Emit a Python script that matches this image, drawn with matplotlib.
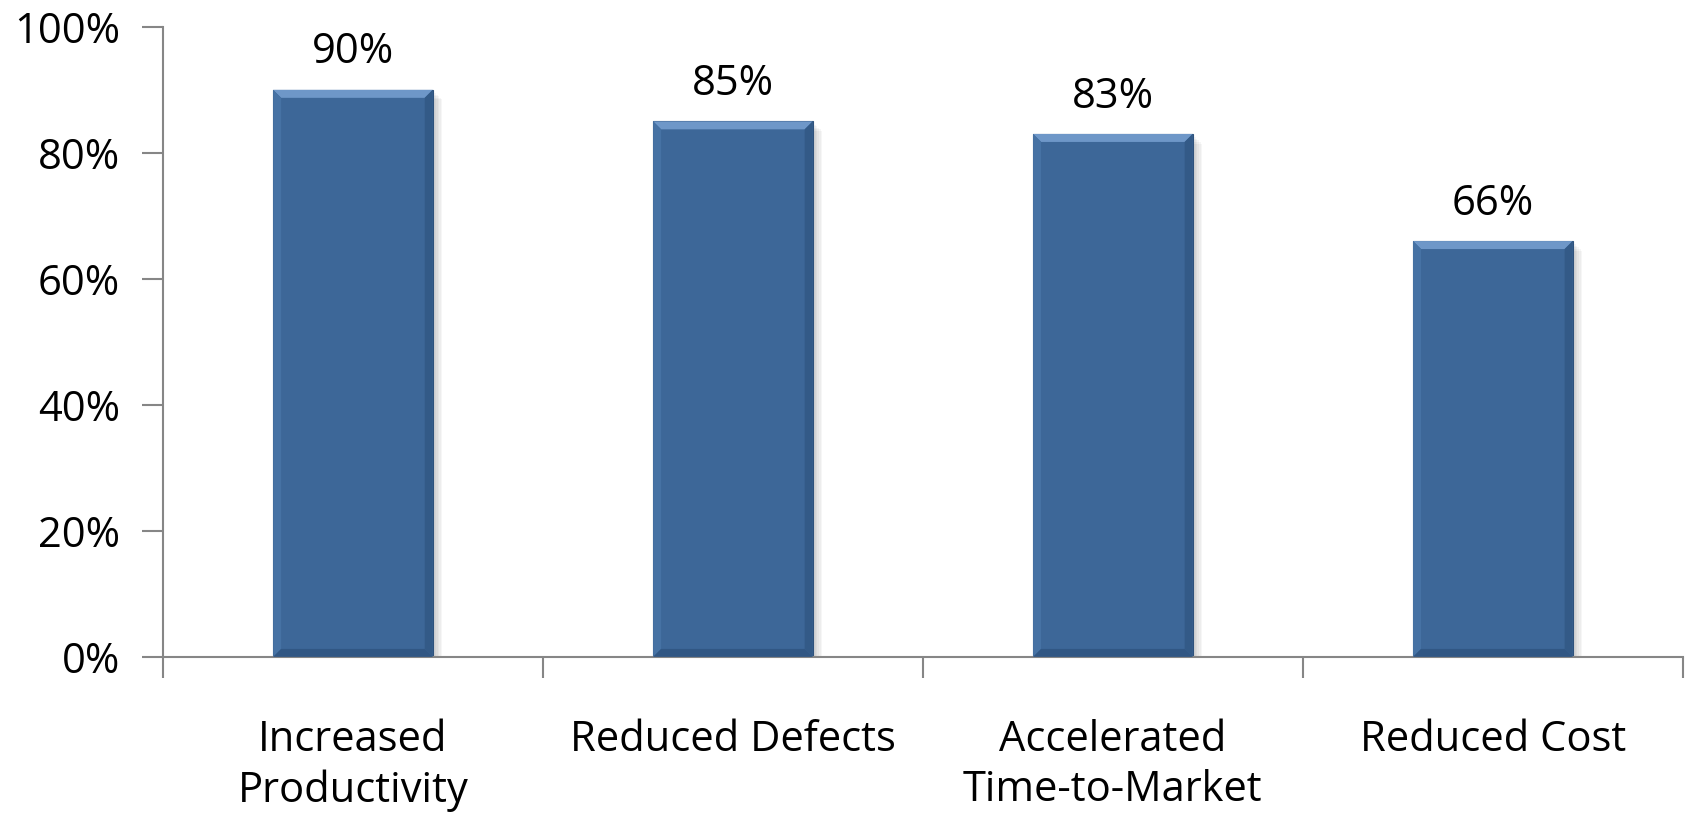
import numpy as np
import matplotlib
matplotlib.use("Agg")
import matplotlib.pyplot as plt
from matplotlib.patches import Rectangle, Polygon

# data
categories = ["Increased\nProductivity", "Reduced Defects", "Accelerated\nTime-to-Market", "Reduced Cost"]
values = [90, 85, 83, 66]
value_labels = ["90%", "85%", "83%", "66%"]
yticks = [0, 20, 40, 60, 80, 100]

plt.rcParams['font.family'] = ['Open Sans', 'DejaVu Sans']

fig = plt.figure(figsize=(16.85, 8.13), dpi=100)
ax = fig.add_axes([0.0967, 0.192, 0.902, 0.775])

width = 0.42
x = np.arange(len(categories))
ax.set_xlim(-0.5, len(categories) - 0.5)
ax.set_ylim(0, 100)

bar_color = "#3D6798"
# pixel -> data conversions for bevel and shadow sizes
ax_w_px = 0.902 * 1685
ax_h_px = 0.775 * 813
px_x = len(categories) / ax_w_px
px_y = 100 / ax_h_px

# soft shadow on the right
for i, v in enumerate(values):
    for k in range(6):
        off = (k + 1) * 1.6
        ax.add_patch(Rectangle((x[i] - width / 2 + off * px_x, 0), width, v - off * px_y,
                               facecolor="black", alpha=0.035, lw=0, zorder=1))

bars = ax.bar(x, values, width=width, color=bar_color, edgecolor="#2E527C", linewidth=0.8, zorder=2)

# bevel edges
bv_x = 8 * px_x
bv_y = 8 * px_y
for i, v in enumerate(values):
    l, r = x[i] - width / 2, x[i] + width / 2
    top = Polygon([(l, v), (r, v), (r - bv_x, v - bv_y), (l + bv_x, v - bv_y)],
                  closed=True, facecolor="#6E97C8", lw=0, zorder=3)
    left = Polygon([(l, v), (l + bv_x, v - bv_y), (l + bv_x, bv_y), (l, 0)],
                   closed=True, facecolor="#4672A4", lw=0, zorder=3)
    right = Polygon([(r, v), (r - bv_x, v - bv_y), (r - bv_x, bv_y), (r, 0)],
                    closed=True, facecolor="#335A87", lw=0, zorder=3)
    bottom = Polygon([(l, 0), (r, 0), (r - bv_x, bv_y), (l + bv_x, bv_y)],
                     closed=True, facecolor="#315784", lw=0, zorder=3)
    for p in (top, left, right, bottom):
        ax.add_patch(p)
    ax.text(x[i], v + 2.6, value_labels[i], ha="center", va="bottom", fontsize=30, color="black")

ax.set_yticks(yticks)
ax.set_yticklabels([f"{t}%" for t in yticks], fontsize=30)
ax.set_xticks(x)
ax.set_xticklabels(categories, fontsize=30, linespacing=1.25)
ax.set_xticks(np.arange(len(categories) + 1) - 0.5, minor=True)
ax.tick_params(axis="x", which="major", length=0, pad=45)
ax.tick_params(axis="x", which="minor", length=15, width=1.5, color="#868686")
ax.tick_params(axis="y", length=15, width=1.5, color="#868686", pad=16)

for s in ["top", "right"]:
    ax.spines[s].set_visible(False)
for s in ["left", "bottom"]:
    ax.spines[s].set_color("#868686")
    ax.spines[s].set_linewidth(1.5)

fig.savefig("out.png", dpi=100)
